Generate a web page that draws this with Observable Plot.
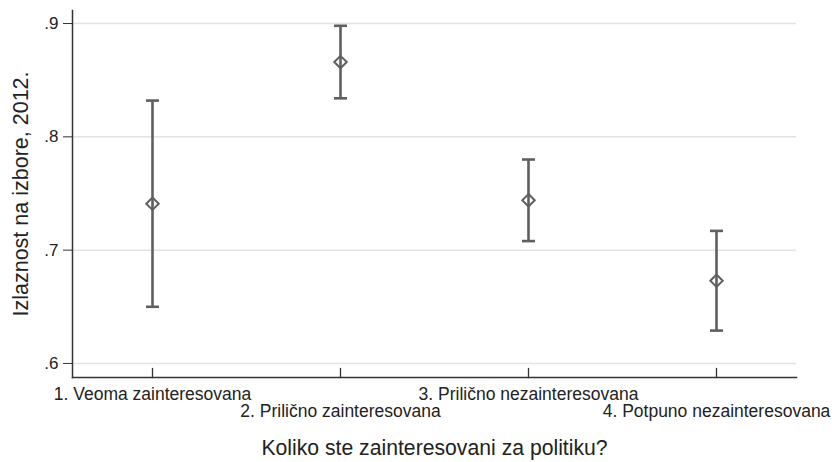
<!DOCTYPE html>
<html>
<head>
<meta charset="utf-8">
<script src="https://cdn.jsdelivr.net/npm/d3@7"></script>
<script src="https://cdn.jsdelivr.net/npm/@observablehq/plot@0.6"></script>
<style>
  html, body { margin: 0; padding: 0; background: #fff; }
  #chart svg { display: block; }
</style>
</head>
<body>
<div id="chart"></div>
<script>
const categories = [
  "1. Veoma zainteresovana",
  "2. Prilično zainteresovana",
  "3. Prilično nezainteresovana",
  "4. Potpuno nezainteresovana"
];
const means = [0.741, 0.866, 0.744, 0.673];
const lows  = [0.650, 0.834, 0.708, 0.629];
const highs = [0.832, 0.898, 0.780, 0.717];
const yTicks = [0.6, 0.7, 0.8, 0.9];
const yDomain = [0.5876, 0.9115];
const yLabel = "Izlaznost na izbore, 2012.";
const xLabel = "Koliko ste zainteresovani za politiku?";

const data = categories.map((c, i) => ({cat: c, mean: means[i], low: lows[i], high: highs[i]}));
const barColor = "#5f5f5f";
const axisColor = "#333";
const capSymbol = {draw(ctx) { ctx.moveTo(-6.5, 0); ctx.lineTo(6.5, 0); }};

const chart = Plot.plot({
  width: 832,
  height: 462,
  marginLeft: 72,
  marginRight: 36,
  marginTop: 10,
  marginBottom: 85,
  style: {fontFamily: "'Liberation Sans', Arial, sans-serif", background: "#fff", color: "#222"},
  x: {type: "point", domain: categories, padding: 0.4255},
  y: {domain: yDomain},
  marks: [
    Plot.gridY(yTicks, {stroke: "#e3e3e3", strokeOpacity: 1, strokeWidth: 1.5}),
    Plot.frame({anchor: "left", stroke: axisColor, strokeWidth: 1.5}),
    Plot.frame({anchor: "bottom", stroke: axisColor, strokeWidth: 1.5}),
    Plot.axisY(yTicks, {
      tickFormat: d => d3.format(".1f")(d).replace(/^0/, ""),
      tickSize: 9, tickPadding: 5, fontSize: 17, label: null, stroke: axisColor, fill: "#222"
    }),
    Plot.text([yLabel], {frameAnchor: "left", textAnchor: "middle", dx: -51, rotate: -90, fontSize: 21.5, fill: "#222"}),
    Plot.axisX([categories[0], categories[2]], {tickSize: 0, tickPadding: 10, fontSize: 17.5, label: null, fill: "#222"}),
    Plot.axisX([categories[1], categories[3]], {tickSize: 0, tickPadding: 27, fontSize: 17.5, label: null, fill: "#222"}),
    Plot.vector(categories, {
      x: d => d, y: yDomain[0], length: 9, anchor: "start",
      shape: {draw(ctx, l) { ctx.moveTo(0, 0); ctx.lineTo(0, -l); }},
      stroke: axisColor, strokeWidth: 1.3
    }),
    Plot.text([xLabel], {frameAnchor: "bottom", dy: 77, fontSize: 21.2, fill: "#222"}),
    Plot.ruleX(data, {x: "cat", y1: "low", y2: "high", stroke: barColor, strokeWidth: 2.6}),
    Plot.dot(data, {x: "cat", y: "low", symbol: capSymbol, stroke: barColor, strokeWidth: 2.6, fill: "none"}),
    Plot.dot(data, {x: "cat", y: "high", symbol: capSymbol, stroke: barColor, strokeWidth: 2.6, fill: "none"}),
    Plot.dot(data, {x: "cat", y: "mean", symbol: "diamond2", r: 5.6, stroke: barColor, strokeWidth: 2, fill: "none"})
  ]
});
document.getElementById("chart").appendChild(chart);
</script>
</body>
</html>
